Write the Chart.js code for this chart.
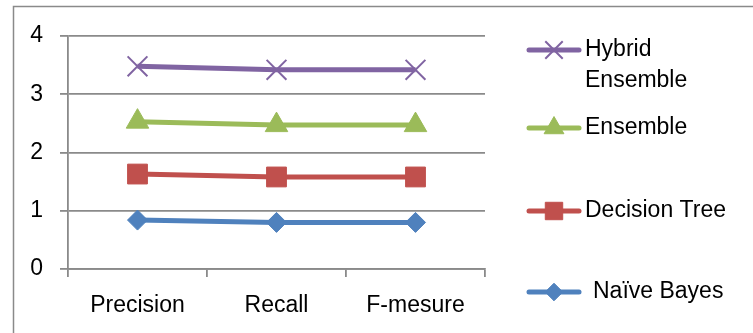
<!DOCTYPE html>
<html>
<head>
<meta charset="utf-8">
<script src="https://cdn.jsdelivr.net/npm/chart.js@4/dist/chart.umd.min.js"></script>
<style>
  html, body { margin: 0; padding: 0; background: #fff; }
  #c { display: block; }
</style>
</head>
<body>
<canvas id="c" width="753" height="333"></canvas>
<script>
// values (stacked line chart, each series adds on the one below)
var categories = ['Precision', 'Recall', 'F-mesure'];
var seriesNames = ['Naïve Bayes', 'Decision Tree', 'Ensemble', 'Hybrid Ensemble'];
var naiveBayes = [0.84, 0.80, 0.80];
var decisionTree = [0.79, 0.78, 0.78];
var ensemble = [0.90, 0.89, 0.89];
var hybridEnsemble = [0.95, 0.95, 0.95];
var yTicks = [0, 1, 2, 3, 4];

var FONT = '"Liberation Sans", Arial, sans-serif';
var GRID = '#8a8a8a';

function makeSeries(label, data, color, style, radius, bw) {
    return {
        label: label,
        data: data,
        borderColor: color,
        backgroundColor: color,
        borderWidth: 5,
        tension: 0,
        fill: false,
        pointStyle: style,
        pointRadius: radius,
        pointHoverRadius: radius,
        pointBackgroundColor: color,
        pointBorderColor: color,
        pointBorderWidth: bw
    };
}

// frame round the whole chart, clipped at right and bottom like the source
var framePlugin = {
    id: 'frame',
    beforeDraw: function(chart) {
        var ctx = chart.ctx;
        ctx.save();
        ctx.fillStyle = '#fff';
        ctx.fillRect(0, 0, chart.width, chart.height);
        ctx.strokeStyle = GRID;
        ctx.lineWidth = 1.5;
        ctx.strokeRect(13.5, 6.5, 900, 600);
        ctx.restore();
    }
};

// legend on the right: line sample with marker, labels wrapped
var sideLegend = {
    id: 'sideLegend',
    afterDraw: function(chart) {
        var ctx = chart.ctx;
        var rowY = [292, 211, 128, 50];
        var textX = [593, 585, 585, 585];
        ctx.save();
        ctx.font = '23px ' + FONT;
        ctx.textBaseline = 'middle';
        ctx.textAlign = 'left';
        chart.data.datasets.forEach(function(ds, i) {
            var y = rowY[i];
            ctx.strokeStyle = ds.borderColor;
            ctx.lineWidth = 5;
            ctx.lineCap = 'round';
            ctx.beginPath();
            ctx.moveTo(529, y);
            ctx.lineTo(579, y);
            ctx.stroke();
            ctx.lineCap = 'butt';
            ctx.fillStyle = ds.pointBackgroundColor;
            ctx.strokeStyle = ds.pointBorderColor;
            ctx.lineWidth = ds.pointBorderWidth;
            Chart.helpers.drawPoint(ctx, {
                pointStyle: ds.pointStyle,
                radius: ds.pointRadius * 0.88,
                borderWidth: ds.pointBorderWidth,
                rotation: 0
            }, 554, y);

            // wrap long labels
            var words = ds.label.split(' ');
            var lines = [];
            var cur = '';
            words.forEach(function(w) {
                var test = cur ? cur + ' ' + w : w;
                if (cur && ctx.measureText(test).width > 150) {
                    lines.push(cur);
                    cur = w;
                } else {
                    cur = test;
                }
            });
            lines.push(cur);
            ctx.fillStyle = '#000';
            lines.forEach(function(line, k) {
                ctx.fillText(line, textX[i], y + k * 31);
            });
        });
        ctx.restore();
    }
};

var chart = new Chart(document.getElementById('c'), {
    type: 'line',
    data: {
        labels: categories,
        datasets: [
            makeSeries(seriesNames[0], naiveBayes, '#4F81BD', 'rectRot', 10, 1),
            makeSeries(seriesNames[1], decisionTree, '#C0504D', 'rect', 14, 1),
            makeSeries(seriesNames[2], ensemble, '#9BBB59', 'triangle', 13, 1),
            makeSeries(seriesNames[3], hybridEnsemble, '#8064A2', 'crossRot', 14, 2)
        ]
    },
    options: {
        responsive: false,
        devicePixelRatio: 1,
        animation: false,
        layout: { padding: { top: 36, right: 268, left: 0, bottom: 0 } },
        plugins: {
            legend: { display: false },
            tooltip: { enabled: false },
            title: { display: false }
        },
        scales: {
            x: {
                offset: true,
                grid: {
                    offset: true,
                    drawOnChartArea: false,
                    drawTicks: true,
                    tickLength: 8,
                    color: GRID,
                    lineWidth: 1.8
                },
                border: { display: true, color: GRID, width: 1.8 },
                ticks: {
                    color: '#000',
                    padding: 15,
                    font: { family: FONT, size: 23 },
                    maxRotation: 0
                },
                afterFit: function(scale) { scale.height = 64; }
            },
            y: {
                stacked: true,
                min: yTicks[0],
                max: yTicks[yTicks.length - 1],
                afterBuildTicks: function(scale) {
                    scale.ticks = yTicks.map(function(v) { return { value: v }; });
                },
                grid: {
                    color: GRID,
                    lineWidth: 1.8,
                    tickLength: 8
                },
                border: { display: true, color: GRID, width: 1.8 },
                ticks: {
                    color: '#000',
                    padding: 17,
                    font: { family: FONT, size: 23 }
                },
                afterFit: function(scale) { scale.width = 68; }
            }
        }
    },
    plugins: [framePlugin, sideLegend]
});
</script>
</body>
</html>
